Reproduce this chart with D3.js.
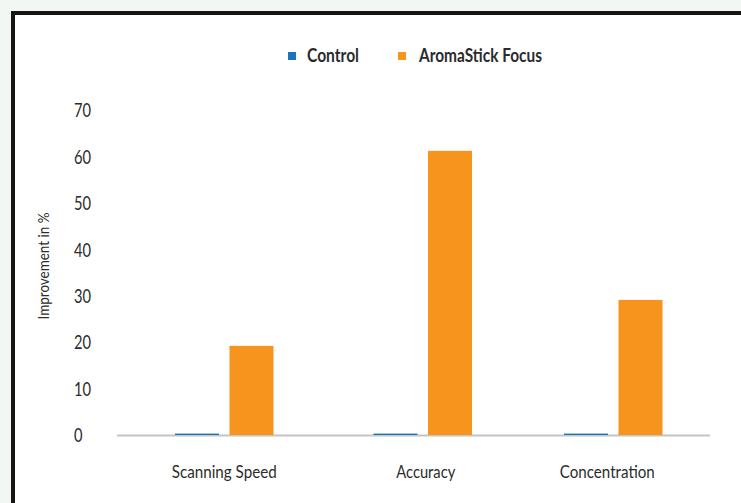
<!DOCTYPE html>
<html>
<head>
<meta charset="utf-8">
<script src="https://cdn.jsdelivr.net/npm/d3@7"></script>
<style>
  html, body { margin: 0; padding: 0; background: #f3f7f4; }
  svg { display: block; }
  text { font-family: Lato, "Open Sans", sans-serif; fill: #2b2b2b; }
</style>
</head>
<body>
<svg id="chart"></svg>
<script>
// Improvement in % per test, two groups
const categories = ['Scanning Speed', 'Accuracy', 'Concentration'];
const seriesNames = ['Control', 'AromaStick Focus'];
const controlValues = [0.3, 0.3, 0.3];
const aromaValues = [19.2, 61.2, 29.1];
const yTicks = [0, 10, 20, 30, 40, 50, 60, 70];

const COLORS = { 'Control': '#1b75bc', 'AromaStick Focus': '#f7941e' };

const W = 741, H = 503;
const svg = d3.select('#chart').attr('width', W).attr('height', H);

// white panel with heavy black frame (runs off the right/bottom)
svg.append('rect')
  .attr('x', 13).attr('y', 13)
  .attr('width', W + 20).attr('height', H + 20)
  .attr('fill', '#fff')
  .attr('stroke', '#151515')
  .attr('stroke-width', 4);

const x0 = d3.scaleBand().domain(categories).range([117, 700.5]).paddingInner(0).paddingOuter(0);
const x1 = d3.scaleBand().domain(seriesNames).range([58, 156.5]).paddingInner(0.1927);
const y = d3.scaleLinear().domain([0, 70]).range([435, 110]);

const rows = categories.map((c, i) => ({
  cat: c,
  vals: [
    { name: 'Control', value: controlValues[i] },
    { name: 'AromaStick Focus', value: aromaValues[i] }
  ]
}));

// baseline
svg.append('line')
  .attr('x1', 117).attr('x2', 710)
  .attr('y1', y(0) + 0.5).attr('y2', y(0) + 0.5)
  .attr('stroke', '#c4c4c4')
  .attr('stroke-width', 2);

// bars (Accuracy group sits a little right of its band in the original)
const groupShift = { 'Scanning Speed': 0, 'Accuracy': 4, 'Concentration': 0 };
const groups = svg.append('g').selectAll('g')
  .data(rows)
  .enter().append('g')
  .attr('transform', d => `translate(${x0(d.cat) + groupShift[d.cat]},0)`);

groups.selectAll('rect')
  .data(d => d.vals)
  .enter().append('rect')
  .attr('x', d => x1(d.name))
  .attr('width', x1.bandwidth())
  .attr('y', d => y(d.value))
  .attr('height', d => y(0) - y(d.value))
  .attr('fill', d => COLORS[d.name]);

// y tick labels (left aligned, no axis line)
const yAxis = d3.axisLeft(y).tickValues(yTicks).tickSize(0).tickPadding(0);
const yg = svg.append('g').attr('transform', 'translate(74,0)').call(yAxis);
yg.select('.domain').remove();
yg.selectAll('text')
  .attr('text-anchor', 'start')
  .attr('x', 0)
  .attr('dy', '0.36em')
  .style('font-size', '19px')
  .style('font-family', 'Lato, sans-serif')
  .attr('fill', '#2b2b2b')
  .attr('textLength', d => String(d).length * 8.5)
  .attr('lengthAdjust', 'spacingAndGlyphs');

// category labels
const xAxis = d3.axisBottom(x0).tickSize(0).tickPadding(0);
const xg = svg.append('g').attr('transform', 'translate(0,478)').call(xAxis);
xg.select('.domain').remove();
const catWidth = { 'Scanning Speed': 105, 'Accuracy': 59, 'Concentration': 95 };
const catShift = { 'Scanning Speed': 10, 'Accuracy': 17, 'Concentration': 4 };
xg.selectAll('.tick').attr('transform', d => `translate(${x0(d) + x0.bandwidth() / 2 + catShift[d]},0)`);
xg.selectAll('text')
  .attr('y', 0).attr('dy', 0)
  .style('font-size', '18px')
  .style('font-family', 'Lato, sans-serif')
  .attr('fill', '#2b2b2b')
  .attr('textLength', d => catWidth[d])
  .attr('lengthAdjust', 'spacingAndGlyphs');

// y axis title
svg.append('text')
  .attr('transform', 'translate(49,266) rotate(-90)')
  .attr('text-anchor', 'middle')
  .style('font-size', '16px')
  .attr('fill', '#2b2b2b')
  .attr('textLength', 107)
  .attr('lengthAdjust', 'spacingAndGlyphs')
  .text('Improvement in %');

// legend
const legendItems = [
  { name: 'Control', sx: 288, tx: 307, tw: 52 },
  { name: 'AromaStick Focus', sx: 398, tx: 419, tw: 123 }
];
const legend = svg.append('g');
legend.selectAll('rect')
  .data(legendItems)
  .enter().append('rect')
  .attr('x', d => d.sx).attr('y', 52)
  .attr('width', 8).attr('height', 8)
  .attr('fill', d => COLORS[d.name]);
legend.selectAll('text')
  .data(legendItems)
  .enter().append('text')
  .attr('x', d => d.tx).attr('y', 62)
  .style('font-size', '18px')
  .style('font-weight', 'bold')
  .attr('fill', '#1a1a1a')
  .attr('textLength', d => d.tw)
  .attr('lengthAdjust', 'spacingAndGlyphs')
  .text(d => d.name);
</script>
</body>
</html>
